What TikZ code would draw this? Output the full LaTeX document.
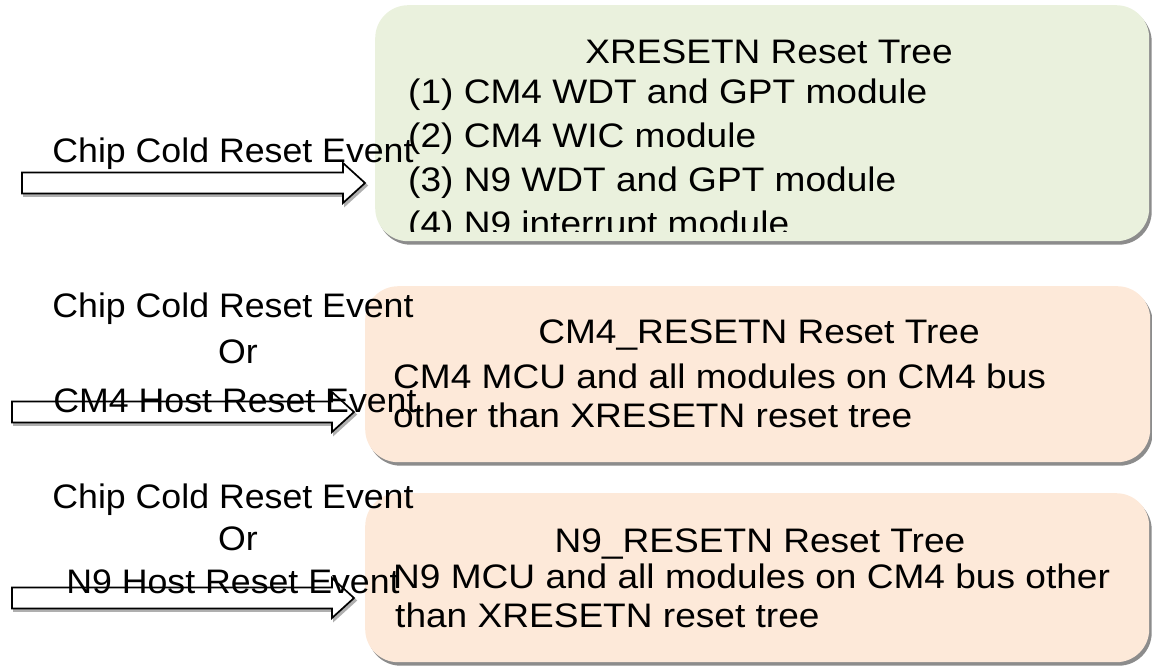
\documentclass[tikz,border=0pt]{standalone}
\usepackage{fontspec}
\setmainfont{Liberation Sans}
\newfontfamily\leftfont{Liberation Sans}[FakeStretch=1.05]
\newfontfamily\boxfont{Liberation Sans}[FakeStretch=1.09]
\usetikzlibrary{shadows}
\definecolor{boxgreen}{HTML}{EAF1DD}
\definecolor{boxpeach}{HTML}{FDE9D9}
\definecolor{shadowgray}{HTML}{8C8C8C}
\tikzset{
  treebox/.style={rounded corners=33pt, draw=none, inner sep=0pt,
    drop shadow={shadow xshift=2.5pt, shadow yshift=-3.5pt, fill=shadowgray, opacity=1}},
  lbl/.style={inner sep=0pt, font=\leftfont\fontsize{34}{40}\selectfont},
  boxlbl/.style={inner sep=0pt, font=\boxfont\fontsize{34}{40}\selectfont},
  arrbody/.style={fill=white, draw=black, line width=1.7pt, line join=miter},
  arrshadow/.style={fill=shadowgray!70, draw=shadowgray!70, line width=1.7pt}
}
\newcommand\blockarr[3]{%
  \pgfmathsetmacro\hb{#2-22}%
  \begin{scope}[shift={(2,2.5)}]
    \fill[arrshadow] (#1,#3-10.5) -- (\hb,#3-10.5) -- (\hb,#3-20) -- (#2,#3) -- (\hb,#3+20) -- (\hb,#3+10.5) -- (#1,#3+10.5) -- cycle;
  \end{scope}
  \draw[arrbody] (#1,#3-10.5) -- (\hb,#3-10.5) -- (\hb,#3-20) -- (#2,#3) -- (\hb,#3+20) -- (\hb,#3+10.5) -- (#1,#3+10.5) -- cycle;
}
\begin{document}
\begin{tikzpicture}[x=1pt,y=-1pt]
\useasboundingbox (0,0) rectangle (1152,672);
% block arrows
\blockarr{22}{365}{183}
\blockarr{12}{354}{412}
\blockarr{12}{354}{598}
% boxes
\node[treebox, fill=boxgreen, minimum width=774pt, minimum height=236pt, anchor=north west] (xbox) at (375,5) {};
\node[treebox, fill=boxpeach, minimum width=785pt, minimum height=176pt, anchor=north west] (cbox) at (365,286) {};
\node[treebox, fill=boxpeach, minimum width=784pt, minimum height=169pt, anchor=north west] (nbox) at (365,493) {};
% box 1 text
\node[boxlbl, anchor=base] (xt) at (769,63) {XRESETN Reset Tree};
\node[boxlbl, anchor=base west] (x1) at (408,103) {(1) CM4 WDT and GPT module};
\node[boxlbl, anchor=base west] (x2) at (408,147) {(2) CM4 WIC module};
\node[boxlbl, anchor=base west] (x3) at (408,191) {(3) N9 WDT and GPT module};
\begin{scope}
  \clip (370,0) rectangle (1152,231);
  \node[boxlbl, anchor=base west] (x4) at (408,235) {(4) N9 interrupt module};
\end{scope}
% box 2 text
\node[boxlbl, anchor=base] (ct) at (759,343) {CM4\_RESETN Reset Tree};
\node[boxlbl, anchor=base west] (c1) at (393,388) {CM4 MCU and all modules on CM4 bus};
\node[boxlbl, anchor=base west] (c2) at (393,427) {other than XRESETN reset tree};
% box 3 text
\node[boxlbl, anchor=base] (nt) at (760,552) {N9\_RESETN Reset Tree};
\node[boxlbl, anchor=base west] (n1) at (393,588) {N9 MCU and all modules on CM4 bus other};
\node[boxlbl, anchor=base west] (n2) at (395,627) {than XRESETN reset tree};
% left labels
\node[lbl, anchor=base] (l1) at (233,162) {Chip Cold Reset Event};
\node[lbl, anchor=base] (l2a) at (233,317) {Chip Cold Reset Event};
\node[lbl, anchor=base] (l2b) at (238,363) {Or};
\node[lbl, anchor=base] (l2c) at (235,412) {CM4 Host Reset Event};
\node[lbl, anchor=base] (l3a) at (233,508) {Chip Cold Reset Event};
\node[lbl, anchor=base] (l3b) at (238,550) {Or};
\node[lbl, anchor=base] (l3c) at (233,593) {N9 Host Reset Event};
\end{tikzpicture}
\end{document}
